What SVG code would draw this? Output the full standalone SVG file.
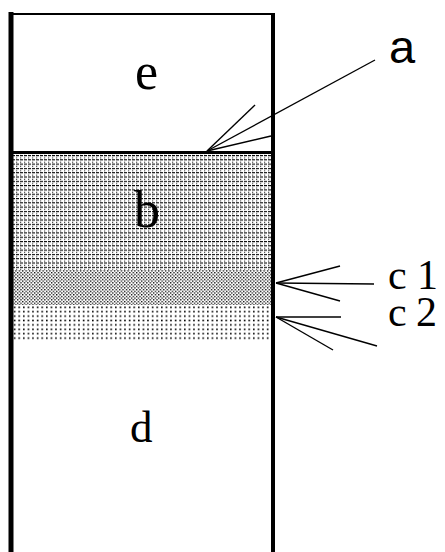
<svg xmlns="http://www.w3.org/2000/svg" width="445" height="552" viewBox="0 0 445 552">
<defs>
<pattern id="pb" width="4" height="4.3" patternUnits="userSpaceOnUse" y="155">
<rect x="0" y="0" width="3" height="1.1" fill="#000"/>
<rect x="0" y="2.3" width="1.2" height="1.2" fill="#000" opacity="0.7"/>
</pattern>
<pattern id="pc1" width="3.4" height="3.4" patternUnits="userSpaceOnUse">
<rect x="0" y="0" width="1.3" height="1.3" fill="#000"/>
<rect x="1.7" y="1.7" width="1.3" height="1.3" fill="#000"/>
</pattern>
<pattern id="pc2" width="4.6" height="4.4" patternUnits="userSpaceOnUse" y="306">
<rect x="0" y="0.5" width="1.6" height="1.6" fill="#000"/>
</pattern>
<style>
.wall{stroke:#000;fill:none}
.ln{stroke:#000;stroke-width:1.4;fill:none}
.lbl{font-family:"Liberation Serif","Times New Roman",serif;fill:#000}
.lbla{font-family:"Liberation Sans",Arial,sans-serif;fill:#000}
</style>
</defs>
<rect width="445" height="552" fill="#fff"/>
<g id="layer-b"><rect x="13" y="154" width="258" height="116" fill="url(#pb)"/></g>
<g id="layer-c1"><rect x="13" y="270" width="258" height="35" fill="url(#pc1)"/></g>
<g id="layer-c2"><rect x="13" y="305" width="258" height="35" fill="url(#pc2)"/></g>
<g id="container">
<line class="wall" x1="11" y1="12" x2="11" y2="552" stroke-width="5"/>
<line class="wall" x1="273" y1="13" x2="273" y2="552" stroke-width="4"/>
<line class="wall" x1="9" y1="14" x2="275" y2="14" stroke-width="2"/>
<line class="wall" x1="11" y1="152.5" x2="273" y2="152.5" stroke-width="3"/>
</g>
<g id="labels">
<text class="lbl" x="135" y="89" font-size="52">e</text>
<text class="lbl" x="134" y="227" font-size="52">b</text>
<text class="lbl" x="130" y="442" font-size="45">d</text>
<text class="lbla" x="389" y="63" font-size="47">a</text>
<text class="lbl" x="388 417" y="289" font-size="42">c1</text>
<text class="lbl" x="388 416" y="326" font-size="42">c2</text>
</g>
<g id="connectors">
<line class="ln" x1="207" y1="151" x2="255" y2="105"/>
<line class="ln" x1="207" y1="151" x2="375" y2="60"/>
<line class="ln" x1="207" y1="151" x2="271" y2="136"/>
<line class="ln" x1="276" y1="283" x2="340" y2="266"/>
<line class="ln" x1="276" y1="283" x2="374" y2="284"/>
<line class="ln" x1="276" y1="283" x2="340" y2="301"/>
<line class="ln" x1="276" y1="317" x2="341" y2="317"/>
<line class="ln" x1="276" y1="317" x2="377" y2="346"/>
<line class="ln" x1="276" y1="317" x2="333" y2="350"/>
</g>
</svg>
